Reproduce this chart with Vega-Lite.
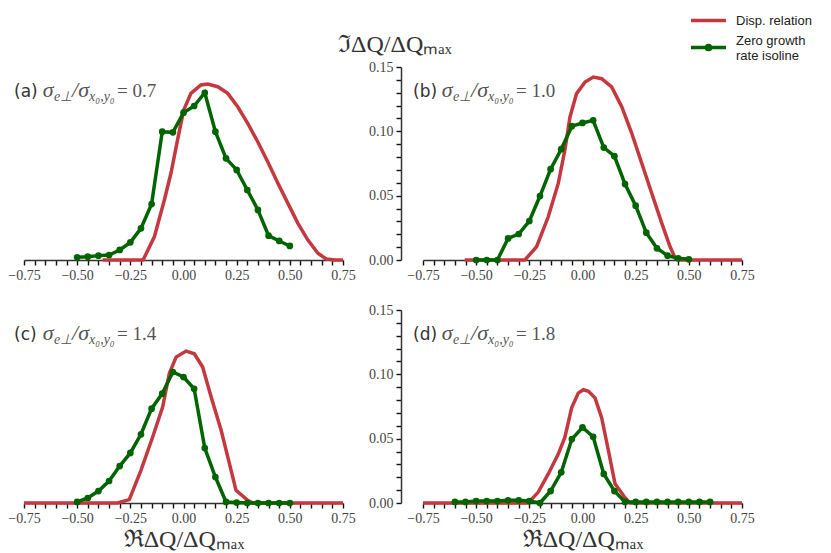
{
  "$schema": "https://vega.github.io/schema/vega-lite/v6.json",
  "description": "Dispersion relation vs zero growth rate isoline, four beam-size ratios.",
  "padding": {"left": 7, "top": 1, "right": 5, "bottom": 0},
  "bounds": "flush",
  "columns": 2,
  "spacing": {"row": 50, "column": 80},
  "datasets": {
    "curves": [
      {"panel": "a", "series": "Disp. relation", "x": -0.38, "y": 0},
      {"panel": "a", "series": "Disp. relation", "x": -0.19, "y": 0},
      {"panel": "a", "series": "Disp. relation", "x": -0.137, "y": 0.018},
      {"panel": "a", "series": "Disp. relation", "x": -0.09, "y": 0.0466},
      {"panel": "a", "series": "Disp. relation", "x": -0.059, "y": 0.0674},
      {"panel": "a", "series": "Disp. relation", "x": -0.028, "y": 0.0933},
      {"panel": "a", "series": "Disp. relation", "x": 0.001, "y": 0.1165},
      {"panel": "a", "series": "Disp. relation", "x": 0.035, "y": 0.1295},
      {"panel": "a", "series": "Disp. relation", "x": 0.082, "y": 0.136},
      {"panel": "a", "series": "Disp. relation", "x": 0.114, "y": 0.1368},
      {"panel": "a", "series": "Disp. relation", "x": 0.161, "y": 0.1347},
      {"panel": "a", "series": "Disp. relation", "x": 0.208, "y": 0.1295},
      {"panel": "a", "series": "Disp. relation", "x": 0.255, "y": 0.1191},
      {"panel": "a", "series": "Disp. relation", "x": 0.302, "y": 0.1062},
      {"panel": "a", "series": "Disp. relation", "x": 0.349, "y": 0.0919},
      {"panel": "a", "series": "Disp. relation", "x": 0.396, "y": 0.0764},
      {"panel": "a", "series": "Disp. relation", "x": 0.444, "y": 0.0596},
      {"panel": "a", "series": "Disp. relation", "x": 0.491, "y": 0.044},
      {"panel": "a", "series": "Disp. relation", "x": 0.538, "y": 0.0285},
      {"panel": "a", "series": "Disp. relation", "x": 0.585, "y": 0.0155},
      {"panel": "a", "series": "Disp. relation", "x": 0.632, "y": 0.0052},
      {"panel": "a", "series": "Disp. relation", "x": 0.671, "y": 0.0008},
      {"panel": "a", "series": "Disp. relation", "x": 0.711, "y": 0},
      {"panel": "a", "series": "Disp. relation", "x": 0.75, "y": 0},
      {"panel": "a", "series": "Zero growth rate isoline", "x": -0.5, "y": 0.0021},
      {"panel": "a", "series": "Zero growth rate isoline", "x": -0.45, "y": 0.0026},
      {"panel": "a", "series": "Zero growth rate isoline", "x": -0.4, "y": 0.0034},
      {"panel": "a", "series": "Zero growth rate isoline", "x": -0.35, "y": 0.0039},
      {"panel": "a", "series": "Zero growth rate isoline", "x": -0.3, "y": 0.0078},
      {"panel": "a", "series": "Zero growth rate isoline", "x": -0.25, "y": 0.0137},
      {"panel": "a", "series": "Zero growth rate isoline", "x": -0.2, "y": 0.0246},
      {"panel": "a", "series": "Zero growth rate isoline", "x": -0.15, "y": 0.0435},
      {"panel": "a", "series": "Zero growth rate isoline", "x": -0.1, "y": 0.0997},
      {"panel": "a", "series": "Zero growth rate isoline", "x": -0.05, "y": 0.0992},
      {"panel": "a", "series": "Zero growth rate isoline", "x": 0, "y": 0.1145},
      {"panel": "a", "series": "Zero growth rate isoline", "x": 0.05, "y": 0.1197},
      {"panel": "a", "series": "Zero growth rate isoline", "x": 0.1, "y": 0.13},
      {"panel": "a", "series": "Zero growth rate isoline", "x": 0.15, "y": 0.0997},
      {"panel": "a", "series": "Zero growth rate isoline", "x": 0.2, "y": 0.079},
      {"panel": "a", "series": "Zero growth rate isoline", "x": 0.25, "y": 0.07},
      {"panel": "a", "series": "Zero growth rate isoline", "x": 0.3, "y": 0.0544},
      {"panel": "a", "series": "Zero growth rate isoline", "x": 0.35, "y": 0.0389},
      {"panel": "a", "series": "Zero growth rate isoline", "x": 0.4, "y": 0.0189},
      {"panel": "a", "series": "Zero growth rate isoline", "x": 0.45, "y": 0.0148},
      {"panel": "a", "series": "Zero growth rate isoline", "x": 0.5, "y": 0.0109},
      {"panel": "b", "series": "Disp. relation", "x": -0.554, "y": 0},
      {"panel": "b", "series": "Disp. relation", "x": -0.271, "y": 0},
      {"panel": "b", "series": "Disp. relation", "x": -0.216, "y": 0.0103},
      {"panel": "b", "series": "Disp. relation", "x": -0.161, "y": 0.0336},
      {"panel": "b", "series": "Disp. relation", "x": -0.114, "y": 0.0595},
      {"panel": "b", "series": "Disp. relation", "x": -0.083, "y": 0.0853},
      {"panel": "b", "series": "Disp. relation", "x": -0.059, "y": 0.111},
      {"panel": "b", "series": "Disp. relation", "x": -0.028, "y": 0.1293},
      {"panel": "b", "series": "Disp. relation", "x": 0.012, "y": 0.1383},
      {"panel": "b", "series": "Disp. relation", "x": 0.051, "y": 0.1422},
      {"panel": "b", "series": "Disp. relation", "x": 0.09, "y": 0.1409},
      {"panel": "b", "series": "Disp. relation", "x": 0.137, "y": 0.1345},
      {"panel": "b", "series": "Disp. relation", "x": 0.185, "y": 0.119},
      {"panel": "b", "series": "Disp. relation", "x": 0.232, "y": 0.0983},
      {"panel": "b", "series": "Disp. relation", "x": 0.279, "y": 0.075},
      {"panel": "b", "series": "Disp. relation", "x": 0.326, "y": 0.0517},
      {"panel": "b", "series": "Disp. relation", "x": 0.373, "y": 0.0285},
      {"panel": "b", "series": "Disp. relation", "x": 0.412, "y": 0.0103},
      {"panel": "b", "series": "Disp. relation", "x": 0.436, "y": 0.0013},
      {"panel": "b", "series": "Disp. relation", "x": 0.467, "y": 0},
      {"panel": "b", "series": "Disp. relation", "x": 0.75, "y": 0},
      {"panel": "b", "series": "Zero growth rate isoline", "x": -0.5, "y": 0},
      {"panel": "b", "series": "Zero growth rate isoline", "x": -0.45, "y": 0},
      {"panel": "b", "series": "Zero growth rate isoline", "x": -0.4, "y": 0},
      {"panel": "b", "series": "Zero growth rate isoline", "x": -0.35, "y": 0.0168},
      {"panel": "b", "series": "Zero growth rate isoline", "x": -0.3, "y": 0.0202},
      {"panel": "b", "series": "Zero growth rate isoline", "x": -0.25, "y": 0.0303},
      {"panel": "b", "series": "Zero growth rate isoline", "x": -0.2, "y": 0.0497},
      {"panel": "b", "series": "Zero growth rate isoline", "x": -0.15, "y": 0.0706},
      {"panel": "b", "series": "Zero growth rate isoline", "x": -0.1, "y": 0.0861},
      {"panel": "b", "series": "Zero growth rate isoline", "x": -0.05, "y": 0.104},
      {"panel": "b", "series": "Zero growth rate isoline", "x": 0, "y": 0.1065},
      {"panel": "b", "series": "Zero growth rate isoline", "x": 0.05, "y": 0.1086},
      {"panel": "b", "series": "Zero growth rate isoline", "x": 0.1, "y": 0.0874},
      {"panel": "b", "series": "Zero growth rate isoline", "x": 0.15, "y": 0.0807},
      {"panel": "b", "series": "Zero growth rate isoline", "x": 0.2, "y": 0.059},
      {"panel": "b", "series": "Zero growth rate isoline", "x": 0.25, "y": 0.0422},
      {"panel": "b", "series": "Zero growth rate isoline", "x": 0.3, "y": 0.0212},
      {"panel": "b", "series": "Zero growth rate isoline", "x": 0.35, "y": 0.0091},
      {"panel": "b", "series": "Zero growth rate isoline", "x": 0.4, "y": 0.0034},
      {"panel": "b", "series": "Zero growth rate isoline", "x": 0.45, "y": 0.0013},
      {"panel": "b", "series": "Zero growth rate isoline", "x": 0.5, "y": 0.0005},
      {"panel": "c", "series": "Disp. relation", "x": -0.75, "y": 0},
      {"panel": "c", "series": "Disp. relation", "x": -0.31, "y": 0},
      {"panel": "c", "series": "Disp. relation", "x": -0.255, "y": 0.0026},
      {"panel": "c", "series": "Disp. relation", "x": -0.2, "y": 0.0254},
      {"panel": "c", "series": "Disp. relation", "x": -0.145, "y": 0.0513},
      {"panel": "c", "series": "Disp. relation", "x": -0.098, "y": 0.0746},
      {"panel": "c", "series": "Disp. relation", "x": -0.067, "y": 0.1005},
      {"panel": "c", "series": "Disp. relation", "x": -0.035, "y": 0.1134},
      {"panel": "c", "series": "Disp. relation", "x": 0.012, "y": 0.1181},
      {"panel": "c", "series": "Disp. relation", "x": 0.051, "y": 0.116},
      {"panel": "c", "series": "Disp. relation", "x": 0.09, "y": 0.1057},
      {"panel": "c", "series": "Disp. relation", "x": 0.13, "y": 0.0824},
      {"panel": "c", "series": "Disp. relation", "x": 0.177, "y": 0.0565},
      {"panel": "c", "series": "Disp. relation", "x": 0.216, "y": 0.0306},
      {"panel": "c", "series": "Disp. relation", "x": 0.247, "y": 0.0098},
      {"panel": "c", "series": "Disp. relation", "x": 0.302, "y": 0.0021},
      {"panel": "c", "series": "Disp. relation", "x": 0.326, "y": 0},
      {"panel": "c", "series": "Disp. relation", "x": 0.75, "y": 0},
      {"panel": "c", "series": "Zero growth rate isoline", "x": -0.5, "y": 0.0008},
      {"panel": "c", "series": "Zero growth rate isoline", "x": -0.45, "y": 0.0039},
      {"panel": "c", "series": "Zero growth rate isoline", "x": -0.4, "y": 0.0093},
      {"panel": "c", "series": "Zero growth rate isoline", "x": -0.35, "y": 0.0171},
      {"panel": "c", "series": "Zero growth rate isoline", "x": -0.3, "y": 0.0287},
      {"panel": "c", "series": "Zero growth rate isoline", "x": -0.25, "y": 0.0389},
      {"panel": "c", "series": "Zero growth rate isoline", "x": -0.2, "y": 0.0534},
      {"panel": "c", "series": "Zero growth rate isoline", "x": -0.15, "y": 0.0733},
      {"panel": "c", "series": "Zero growth rate isoline", "x": -0.1, "y": 0.085},
      {"panel": "c", "series": "Zero growth rate isoline", "x": -0.05, "y": 0.1018},
      {"panel": "c", "series": "Zero growth rate isoline", "x": 0, "y": 0.0979},
      {"panel": "c", "series": "Zero growth rate isoline", "x": 0.05, "y": 0.0888},
      {"panel": "c", "series": "Zero growth rate isoline", "x": 0.1, "y": 0.0427},
      {"panel": "c", "series": "Zero growth rate isoline", "x": 0.15, "y": 0.0202},
      {"panel": "c", "series": "Zero growth rate isoline", "x": 0.2, "y": 0.0008},
      {"panel": "c", "series": "Zero growth rate isoline", "x": 0.25, "y": 0.0003},
      {"panel": "c", "series": "Zero growth rate isoline", "x": 0.3, "y": 0},
      {"panel": "c", "series": "Zero growth rate isoline", "x": 0.35, "y": 0},
      {"panel": "c", "series": "Zero growth rate isoline", "x": 0.4, "y": 0},
      {"panel": "c", "series": "Zero growth rate isoline", "x": 0.45, "y": 0},
      {"panel": "c", "series": "Zero growth rate isoline", "x": 0.5, "y": 0},
      {"panel": "d", "series": "Disp. relation", "x": -0.75, "y": 0},
      {"panel": "d", "series": "Disp. relation", "x": -0.255, "y": 0},
      {"panel": "d", "series": "Disp. relation", "x": -0.208, "y": 0.0085},
      {"panel": "d", "series": "Disp. relation", "x": -0.161, "y": 0.0226},
      {"panel": "d", "series": "Disp. relation", "x": -0.114, "y": 0.038},
      {"panel": "d", "series": "Disp. relation", "x": -0.083, "y": 0.0509},
      {"panel": "d", "series": "Disp. relation", "x": -0.051, "y": 0.074},
      {"panel": "d", "series": "Disp. relation", "x": -0.02, "y": 0.0854},
      {"panel": "d", "series": "Disp. relation", "x": 0.004, "y": 0.088},
      {"panel": "d", "series": "Disp. relation", "x": 0.028, "y": 0.0869},
      {"panel": "d", "series": "Disp. relation", "x": 0.059, "y": 0.0817},
      {"panel": "d", "series": "Disp. relation", "x": 0.09, "y": 0.0663},
      {"panel": "d", "series": "Disp. relation", "x": 0.122, "y": 0.0406},
      {"panel": "d", "series": "Disp. relation", "x": 0.153, "y": 0.0149},
      {"panel": "d", "series": "Disp. relation", "x": 0.2, "y": 0.0041},
      {"panel": "d", "series": "Disp. relation", "x": 0.224, "y": 0},
      {"panel": "d", "series": "Disp. relation", "x": 0.75, "y": 0},
      {"panel": "d", "series": "Zero growth rate isoline", "x": -0.6, "y": 0.0008},
      {"panel": "d", "series": "Zero growth rate isoline", "x": -0.55, "y": 0.0008},
      {"panel": "d", "series": "Zero growth rate isoline", "x": -0.5, "y": 0.0015},
      {"panel": "d", "series": "Zero growth rate isoline", "x": -0.45, "y": 0.0015},
      {"panel": "d", "series": "Zero growth rate isoline", "x": -0.4, "y": 0.0015},
      {"panel": "d", "series": "Zero growth rate isoline", "x": -0.35, "y": 0.0021},
      {"panel": "d", "series": "Zero growth rate isoline", "x": -0.3, "y": 0.0021},
      {"panel": "d", "series": "Zero growth rate isoline", "x": -0.25, "y": 0.0015},
      {"panel": "d", "series": "Zero growth rate isoline", "x": -0.2, "y": 0},
      {"panel": "d", "series": "Zero growth rate isoline", "x": -0.15, "y": 0.0093},
      {"panel": "d", "series": "Zero growth rate isoline", "x": -0.1, "y": 0.0239},
      {"panel": "d", "series": "Zero growth rate isoline", "x": -0.05, "y": 0.0497},
      {"panel": "d", "series": "Zero growth rate isoline", "x": 0, "y": 0.0587},
      {"panel": "d", "series": "Zero growth rate isoline", "x": 0.05, "y": 0.0515},
      {"panel": "d", "series": "Zero growth rate isoline", "x": 0.1, "y": 0.0226},
      {"panel": "d", "series": "Zero growth rate isoline", "x": 0.15, "y": 0.0093},
      {"panel": "d", "series": "Zero growth rate isoline", "x": 0.2, "y": 0.0008},
      {"panel": "d", "series": "Zero growth rate isoline", "x": 0.25, "y": 0.0008},
      {"panel": "d", "series": "Zero growth rate isoline", "x": 0.3, "y": 0.0008},
      {"panel": "d", "series": "Zero growth rate isoline", "x": 0.35, "y": 0.0008},
      {"panel": "d", "series": "Zero growth rate isoline", "x": 0.4, "y": 0.0008},
      {"panel": "d", "series": "Zero growth rate isoline", "x": 0.45, "y": 0.0008},
      {"panel": "d", "series": "Zero growth rate isoline", "x": 0.5, "y": 0.0008},
      {"panel": "d", "series": "Zero growth rate isoline", "x": 0.55, "y": 0.0008},
      {"panel": "d", "series": "Zero growth rate isoline", "x": 0.6, "y": 0.0008}
    ]
  },
  "resolve": {"scale": {"color": "shared"}, "legend": {"color": "shared"}},
  "concat": [
    {
      "width": 319,
      "height": 193,
      "data": {"name": "curves"},
      "transform": [{"filter": "datum.panel == 'a'"}],
      "layer": [
        {
          "mark": {"type": "line", "strokeWidth": 3.5},
          "transform": [{"filter": "datum.series == 'Disp. relation'"}],
          "encoding": {
            "x": {"field": "x", "type": "quantitative", "scale": {"domain": [-0.75, 0.75], "nice": false, "zero": false},
              "axis": {"title": null, "tickCount": 30, "labelOverlap": false, "format": ".2f", "labelExpr": "abs(datum.value*4 - round(datum.value*4)) < 0.01 ? datum.label : ''"}},
            "y": {"field": "y", "type": "quantitative", "scale": {"domain": [0, 0.15], "nice": false}, "axis": null},
            "color": {"field": "series", "type": "nominal", "scale": {"domain": ["Disp. relation", "Zero growth rate isoline"], "range": ["#c4383f", "#006400"]},
              "legend": {"labelExpr": "datum.value == 'Zero growth rate isoline' ? ['Zero growth', 'rate isoline'] : datum.label",
                "encode": {
                  "symbols": {"update": {"shape": {"signal": "datum.value == 'Disp. relation' ? 'stroke' : 'M-1,0H1M-0.12,0A0.12,0.12 0 1,0 0.12,0A0.12,0.12 0 1,0 -0.12,0'"}}},
                  "labels": {"update": {"dy": {"signal": "datum.value == 'Zero growth rate isoline' ? -7 : 0"}}}
                }}}
          }
        },
        {
          "mark": {"type": "line", "strokeWidth": 3.5},
          "transform": [{"filter": "datum.series == 'Zero growth rate isoline'"}],
          "encoding": {
            "x": {"field": "x", "type": "quantitative"},
            "y": {"field": "y", "type": "quantitative"},
            "color": {"field": "series", "type": "nominal"}
          }
        },
        {
          "mark": {"type": "circle", "size": 45, "opacity": 1, "color": "#006400"},
          "transform": [{"filter": "datum.series == 'Zero growth rate isoline'"}],
          "encoding": {
            "x": {"field": "x", "type": "quantitative"},
            "y": {"field": "y", "type": "quantitative"}
          }
        },
        {
          "data": {"values": [{"label": "(a)"}]},
          "mark": {"type": "text", "font": "DejaVu Sans", "fontSize": 17, "color": "#333", "align": "left", "baseline": "alphabetic"},
          "encoding": {"x": {"datum": -0.797}, "y": {"datum": 0.1267}, "text": {"field": "label"}}
        },
        {
          "data": {"values": [{"label": "σ"}]},
          "mark": {"type": "text", "font": "Liberation Serif", "fontStyle": "italic", "fontSize": 22, "color": "#555", "align": "left", "baseline": "alphabetic"},
          "encoding": {"x": {"datum": -0.662}, "y": {"datum": 0.1267}, "text": {"field": "label"}}
        },
        {
          "data": {"values": [{"label": "e⊥"}]},
          "mark": {"type": "text", "font": "Liberation Serif", "fontStyle": "italic", "fontSize": 14, "color": "#555", "align": "left", "baseline": "alphabetic"},
          "encoding": {"x": {"datum": -0.609}, "y": {"datum": 0.1236}, "text": {"field": "label"}}
        },
        {
          "data": {"values": [{"label": "/σ"}]},
          "mark": {"type": "text", "font": "Liberation Serif", "fontStyle": "italic", "fontSize": 22, "color": "#555", "align": "left", "baseline": "alphabetic"},
          "encoding": {"x": {"datum": -0.524}, "y": {"datum": 0.1267}, "text": {"field": "label"}}
        },
        {
          "data": {"values": [{"label": "x₀,y₀"}]},
          "mark": {"type": "text", "font": "Liberation Serif", "fontStyle": "italic", "fontSize": 14, "color": "#555", "align": "left", "baseline": "alphabetic"},
          "encoding": {"x": {"datum": -0.444}, "y": {"datum": 0.1236}, "text": {"field": "label"}}
        },
        {
          "data": {"values": [{"label": "= 0.7"}]},
          "mark": {"type": "text", "font": "Liberation Serif", "fontSize": 19, "color": "#555", "align": "left", "baseline": "alphabetic"},
          "encoding": {"x": {"datum": -0.313}, "y": {"datum": 0.1267}, "text": {"field": "label"}}
        }
      ]
    },
    {
      "width": 319,
      "height": 193,
      "data": {"name": "curves"},
      "transform": [{"filter": "datum.panel == 'b'"}],
      "layer": [
        {
          "mark": {"type": "line", "strokeWidth": 3.5},
          "transform": [{"filter": "datum.series == 'Disp. relation'"}],
          "encoding": {
            "x": {"field": "x", "type": "quantitative", "scale": {"domain": [-0.75, 0.75], "nice": false, "zero": false},
              "axis": {"title": null, "tickCount": 30, "labelOverlap": false, "format": ".2f", "labelExpr": "abs(datum.value*4 - round(datum.value*4)) < 0.01 ? datum.label : ''"}},
            "y": {"field": "y", "type": "quantitative", "scale": {"domain": [0, 0.15], "nice": false},
              "axis": {"title": null, "offset": 22, "tickCount": 15, "labelOverlap": false, "format": ".2f", "labelExpr": "abs(datum.value*20 - round(datum.value*20)) < 0.01 ? datum.label : ''"}},
            "color": {"field": "series", "type": "nominal", "scale": {"domain": ["Disp. relation", "Zero growth rate isoline"], "range": ["#c4383f", "#006400"]}}
          }
        },
        {
          "mark": {"type": "line", "strokeWidth": 3.5},
          "transform": [{"filter": "datum.series == 'Zero growth rate isoline'"}],
          "encoding": {
            "x": {"field": "x", "type": "quantitative"},
            "y": {"field": "y", "type": "quantitative"},
            "color": {"field": "series", "type": "nominal"}
          }
        },
        {
          "mark": {"type": "circle", "size": 45, "opacity": 1, "color": "#006400"},
          "transform": [{"filter": "datum.series == 'Zero growth rate isoline'"}],
          "encoding": {
            "x": {"field": "x", "type": "quantitative"},
            "y": {"field": "y", "type": "quantitative"}
          }
        },
        {
          "data": {"values": [{"label": "(b)"}]},
          "mark": {"type": "text", "font": "DejaVu Sans", "fontSize": 17, "color": "#333", "align": "left", "baseline": "alphabetic"},
          "encoding": {"x": {"datum": -0.797}, "y": {"datum": 0.1267}, "text": {"field": "label"}}
        },
        {
          "data": {"values": [{"label": "σ"}]},
          "mark": {"type": "text", "font": "Liberation Serif", "fontStyle": "italic", "fontSize": 22, "color": "#555", "align": "left", "baseline": "alphabetic"},
          "encoding": {"x": {"datum": -0.662}, "y": {"datum": 0.1267}, "text": {"field": "label"}}
        },
        {
          "data": {"values": [{"label": "e⊥"}]},
          "mark": {"type": "text", "font": "Liberation Serif", "fontStyle": "italic", "fontSize": 14, "color": "#555", "align": "left", "baseline": "alphabetic"},
          "encoding": {"x": {"datum": -0.609}, "y": {"datum": 0.1236}, "text": {"field": "label"}}
        },
        {
          "data": {"values": [{"label": "/σ"}]},
          "mark": {"type": "text", "font": "Liberation Serif", "fontStyle": "italic", "fontSize": 22, "color": "#555", "align": "left", "baseline": "alphabetic"},
          "encoding": {"x": {"datum": -0.524}, "y": {"datum": 0.1267}, "text": {"field": "label"}}
        },
        {
          "data": {"values": [{"label": "x₀,y₀"}]},
          "mark": {"type": "text", "font": "Liberation Serif", "fontStyle": "italic", "fontSize": 14, "color": "#555", "align": "left", "baseline": "alphabetic"},
          "encoding": {"x": {"datum": -0.444}, "y": {"datum": 0.1236}, "text": {"field": "label"}}
        },
        {
          "data": {"values": [{"label": "= 1.0"}]},
          "mark": {"type": "text", "font": "Liberation Serif", "fontSize": 19, "color": "#555", "align": "left", "baseline": "alphabetic"},
          "encoding": {"x": {"datum": -0.313}, "y": {"datum": 0.1267}, "text": {"field": "label"}}
        },
        {
          "data": {"values": [{"label": "ℑΔQ/ΔQₘₐₓ"}]},
          "mark": {"type": "text", "font": "Liberation Serif", "fontSize": 24, "color": "#333", "align": "center", "baseline": "middle"},
          "encoding": {"x": {"datum": -0.882}, "y": {"datum": 0.167}, "text": {"field": "label"}}
        }
      ]
    },
    {
      "width": 319,
      "height": 193,
      "data": {"name": "curves"},
      "transform": [{"filter": "datum.panel == 'c'"}],
      "layer": [
        {
          "mark": {"type": "line", "strokeWidth": 3.5},
          "transform": [{"filter": "datum.series == 'Disp. relation'"}],
          "encoding": {
            "x": {"field": "x", "type": "quantitative", "scale": {"domain": [-0.75, 0.75], "nice": false, "zero": false},
              "axis": {"title": "ℜΔQ/ΔQₘₐₓ", "tickCount": 30, "labelOverlap": false, "format": ".2f", "labelExpr": "abs(datum.value*4 - round(datum.value*4)) < 0.01 ? datum.label : ''"}},
            "y": {"field": "y", "type": "quantitative", "scale": {"domain": [0, 0.15], "nice": false}, "axis": null},
            "color": {"field": "series", "type": "nominal", "scale": {"domain": ["Disp. relation", "Zero growth rate isoline"], "range": ["#c4383f", "#006400"]}}
          }
        },
        {
          "mark": {"type": "line", "strokeWidth": 3.5},
          "transform": [{"filter": "datum.series == 'Zero growth rate isoline'"}],
          "encoding": {
            "x": {"field": "x", "type": "quantitative"},
            "y": {"field": "y", "type": "quantitative"},
            "color": {"field": "series", "type": "nominal"}
          }
        },
        {
          "mark": {"type": "circle", "size": 45, "opacity": 1, "color": "#006400"},
          "transform": [{"filter": "datum.series == 'Zero growth rate isoline'"}],
          "encoding": {
            "x": {"field": "x", "type": "quantitative"},
            "y": {"field": "y", "type": "quantitative"}
          }
        },
        {
          "data": {"values": [{"label": "(c)"}]},
          "mark": {"type": "text", "font": "DejaVu Sans", "fontSize": 17, "color": "#333", "align": "left", "baseline": "alphabetic"},
          "encoding": {"x": {"datum": -0.797}, "y": {"datum": 0.1267}, "text": {"field": "label"}}
        },
        {
          "data": {"values": [{"label": "σ"}]},
          "mark": {"type": "text", "font": "Liberation Serif", "fontStyle": "italic", "fontSize": 22, "color": "#555", "align": "left", "baseline": "alphabetic"},
          "encoding": {"x": {"datum": -0.662}, "y": {"datum": 0.1267}, "text": {"field": "label"}}
        },
        {
          "data": {"values": [{"label": "e⊥"}]},
          "mark": {"type": "text", "font": "Liberation Serif", "fontStyle": "italic", "fontSize": 14, "color": "#555", "align": "left", "baseline": "alphabetic"},
          "encoding": {"x": {"datum": -0.609}, "y": {"datum": 0.1236}, "text": {"field": "label"}}
        },
        {
          "data": {"values": [{"label": "/σ"}]},
          "mark": {"type": "text", "font": "Liberation Serif", "fontStyle": "italic", "fontSize": 22, "color": "#555", "align": "left", "baseline": "alphabetic"},
          "encoding": {"x": {"datum": -0.524}, "y": {"datum": 0.1267}, "text": {"field": "label"}}
        },
        {
          "data": {"values": [{"label": "x₀,y₀"}]},
          "mark": {"type": "text", "font": "Liberation Serif", "fontStyle": "italic", "fontSize": 14, "color": "#555", "align": "left", "baseline": "alphabetic"},
          "encoding": {"x": {"datum": -0.444}, "y": {"datum": 0.1236}, "text": {"field": "label"}}
        },
        {
          "data": {"values": [{"label": "= 1.4"}]},
          "mark": {"type": "text", "font": "Liberation Serif", "fontSize": 19, "color": "#555", "align": "left", "baseline": "alphabetic"},
          "encoding": {"x": {"datum": -0.313}, "y": {"datum": 0.1267}, "text": {"field": "label"}}
        }
      ]
    },
    {
      "width": 319,
      "height": 193,
      "data": {"name": "curves"},
      "transform": [{"filter": "datum.panel == 'd'"}],
      "layer": [
        {
          "mark": {"type": "line", "strokeWidth": 3.5},
          "transform": [{"filter": "datum.series == 'Disp. relation'"}],
          "encoding": {
            "x": {"field": "x", "type": "quantitative", "scale": {"domain": [-0.75, 0.75], "nice": false, "zero": false},
              "axis": {"title": "ℜΔQ/ΔQₘₐₓ", "tickCount": 30, "labelOverlap": false, "format": ".2f", "labelExpr": "abs(datum.value*4 - round(datum.value*4)) < 0.01 ? datum.label : ''"}},
            "y": {"field": "y", "type": "quantitative", "scale": {"domain": [0, 0.15], "nice": false},
              "axis": {"title": null, "offset": 22, "tickCount": 15, "labelOverlap": false, "format": ".2f", "labelExpr": "abs(datum.value*20 - round(datum.value*20)) < 0.01 ? datum.label : ''"}},
            "color": {"field": "series", "type": "nominal", "scale": {"domain": ["Disp. relation", "Zero growth rate isoline"], "range": ["#c4383f", "#006400"]}}
          }
        },
        {
          "mark": {"type": "line", "strokeWidth": 3.5},
          "transform": [{"filter": "datum.series == 'Zero growth rate isoline'"}],
          "encoding": {
            "x": {"field": "x", "type": "quantitative"},
            "y": {"field": "y", "type": "quantitative"},
            "color": {"field": "series", "type": "nominal"}
          }
        },
        {
          "mark": {"type": "circle", "size": 45, "opacity": 1, "color": "#006400"},
          "transform": [{"filter": "datum.series == 'Zero growth rate isoline'"}],
          "encoding": {
            "x": {"field": "x", "type": "quantitative"},
            "y": {"field": "y", "type": "quantitative"}
          }
        },
        {
          "data": {"values": [{"label": "(d)"}]},
          "mark": {"type": "text", "font": "DejaVu Sans", "fontSize": 17, "color": "#333", "align": "left", "baseline": "alphabetic"},
          "encoding": {"x": {"datum": -0.797}, "y": {"datum": 0.1267}, "text": {"field": "label"}}
        },
        {
          "data": {"values": [{"label": "σ"}]},
          "mark": {"type": "text", "font": "Liberation Serif", "fontStyle": "italic", "fontSize": 22, "color": "#555", "align": "left", "baseline": "alphabetic"},
          "encoding": {"x": {"datum": -0.662}, "y": {"datum": 0.1267}, "text": {"field": "label"}}
        },
        {
          "data": {"values": [{"label": "e⊥"}]},
          "mark": {"type": "text", "font": "Liberation Serif", "fontStyle": "italic", "fontSize": 14, "color": "#555", "align": "left", "baseline": "alphabetic"},
          "encoding": {"x": {"datum": -0.609}, "y": {"datum": 0.1236}, "text": {"field": "label"}}
        },
        {
          "data": {"values": [{"label": "/σ"}]},
          "mark": {"type": "text", "font": "Liberation Serif", "fontStyle": "italic", "fontSize": 22, "color": "#555", "align": "left", "baseline": "alphabetic"},
          "encoding": {"x": {"datum": -0.524}, "y": {"datum": 0.1267}, "text": {"field": "label"}}
        },
        {
          "data": {"values": [{"label": "x₀,y₀"}]},
          "mark": {"type": "text", "font": "Liberation Serif", "fontStyle": "italic", "fontSize": 14, "color": "#555", "align": "left", "baseline": "alphabetic"},
          "encoding": {"x": {"datum": -0.444}, "y": {"datum": 0.1236}, "text": {"field": "label"}}
        },
        {
          "data": {"values": [{"label": "= 1.8"}]},
          "mark": {"type": "text", "font": "Liberation Serif", "fontSize": 19, "color": "#555", "align": "left", "baseline": "alphabetic"},
          "encoding": {"x": {"datum": -0.313}, "y": {"datum": 0.1267}, "text": {"field": "label"}}
        }
      ]
    }
  ],
  "config": {
    "view": {"stroke": null},
    "font": "Liberation Serif",
    "axis": {
      "grid": false,
      "domainColor": "#333",
      "domainWidth": 1.5,
      "ticks": true,
      "tickColor": "#111",
      "tickWidth": 1.4,
      "tickSize": 5,
      "labelFont": "Liberation Serif",
      "labelFontSize": 14,
      "labelColor": "#444",
      "labelPadding": 3,
      "labelFlush": false,
      "titleFont": "Liberation Serif",
      "titleFontSize": 24,
      "titleFontWeight": "normal",
      "titleColor": "#333",
      "titlePadding": 2
    },
    "legend": {
      "orient": "none",
      "legendX": 665,
      "legendY": -66,
      "title": null,
      "symbolType": "stroke",
      "symbolSize": 1225,
      "symbolStrokeWidth": 3.5,
      "labelFont": "Liberation Sans",
      "labelFontSize": 13,
      "labelColor": "#222",
      "labelOffset": 8,
      "rowPadding": -4
    }
  }
}
